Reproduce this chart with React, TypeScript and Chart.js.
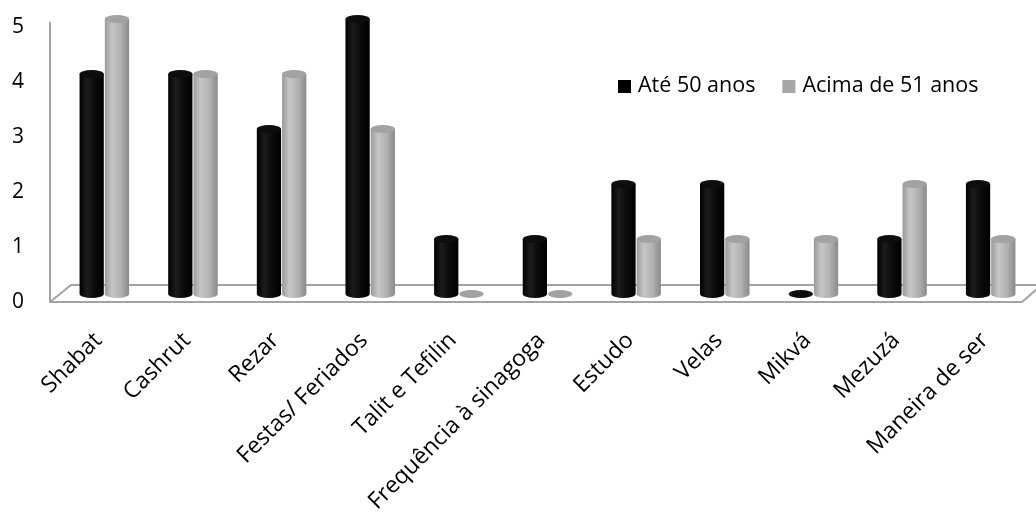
import React, { useEffect, useRef } from "react";
import { Chart, registerables } from "chart.js";

Chart.register(...registerables);

const categories = [
  "Shabat",
  "Cashrut",
  "Rezar",
  "Festas/ Feriados",
  "Talit e Tefilin",
  "Frequência à sinagoga",
  "Estudo",
  "Velas",
  "Mikvá",
  "Mezuzá",
  "Maneira de ser",
];

const seriesNames = ["Até 50 anos", "Acima de 51 anos"];
const ate50 = [4, 4, 3, 5, 1, 1, 2, 2, 0, 1, 2];
const acima51 = [5, 4, 4, 3, 0, 0, 1, 1, 1, 2, 1];
const yTicks = [0, 1, 2, 3, 4, 5];

const FONT = "'Open Sans', 'DejaVu Sans', sans-serif";

// Shading for each series: body gradient stops and cap colour
const shades = [
  {
    stops: ["#000000", "#1c1c1c", "#0a0a0a", "#000000"],
    cap: "#0d0d0d",
    legend: "#000000",
  },
  {
    stops: ["#9a9a9a", "#c6c6c6", "#b2b2b2", "#8a8a8a"],
    cap: "#a2a2a2",
    legend: "#a6a6a6",
  },
];

// Floor plane, value axis line, cylinders and legend
const cylinderPlugin = {
  id: "cylinders",
  beforeDatasetsDraw(chart: any) {
    const { ctx, chartArea, scales } = chart;
    const base = scales.y.getPixelForValue(0);
    const top = scales.y.getPixelForValue(5);
    const frontY = base + 8;
    const backY = base - 9;
    const leftX = chartArea.left - 10;
    const rightX = chartArea.right - 13;
    const depth = 21;
    ctx.save();
    ctx.strokeStyle = "#a3a3a3";
    ctx.lineWidth = 2;
    ctx.beginPath();
    ctx.moveTo(leftX, top + 3);
    ctx.lineTo(leftX, frontY);
    ctx.lineTo(rightX, frontY);
    ctx.lineTo(rightX + depth - 6, backY + 4);
    ctx.moveTo(leftX, frontY);
    ctx.lineTo(leftX + depth, backY);
    ctx.lineTo(chartArea.right + 2, backY);
    ctx.stroke();
    ctx.restore();
  },
  afterDatasetsDraw(chart: any) {
    const { ctx } = chart;
    const ry = 4;
    ctx.save();
    chart.data.datasets.forEach((_: any, di: number) => {
      const meta = chart.getDatasetMeta(di);
      const shade = shades[di];
      meta.data.forEach((bar: any) => {
        const { x, y, base, width } = bar.getProps(["x", "y", "base", "width"], true);
        const rx = width / 2 - 0.5;
        if (Math.abs(base - y) > 0.5) {
          const g = ctx.createLinearGradient(x - rx, 0, x + rx, 0);
          g.addColorStop(0, shade.stops[0]);
          g.addColorStop(0.3, shade.stops[1]);
          g.addColorStop(0.65, shade.stops[2]);
          g.addColorStop(1, shade.stops[3]);
          ctx.fillStyle = g;
          ctx.beginPath();
          ctx.moveTo(x - rx, y);
          ctx.lineTo(x - rx, base);
          ctx.ellipse(x, base, rx, ry, 0, Math.PI, 0, true);
          ctx.lineTo(x + rx, y);
          ctx.closePath();
          ctx.fill();
        }
        ctx.fillStyle = shade.cap;
        ctx.beginPath();
        ctx.ellipse(x, y, rx, ry, 0, 0, Math.PI * 2);
        ctx.fill();
      });
    });

    // legend
    ctx.font = `21.5px ${FONT}`;
    ctx.textBaseline = "middle";
    ctx.textAlign = "left";
    const ly = 86;
    let lx = 618;
    seriesNames.forEach((name, i) => {
      ctx.fillStyle = shades[i].legend;
      ctx.fillRect(lx, ly - 6, 13, 13);
      ctx.fillStyle = "#000000";
      ctx.fillText(name, lx + 20, ly);
      lx += 20 + ctx.measureText(name).width + 27;
    });
    ctx.restore();
  },
};

export default function App() {
  const canvasRef = useRef<HTMLCanvasElement | null>(null);

  useEffect(() => {
    if (!canvasRef.current) return;
    const chart = new Chart(canvasRef.current, {
      type: "bar",
      data: {
        labels: categories,
        datasets: [
          {
            label: seriesNames[0],
            data: ate50,
            backgroundColor: "rgba(0,0,0,0)",
            borderWidth: 0,
          },
          {
            label: seriesNames[1],
            data: acima51,
            backgroundColor: "rgba(0,0,0,0)",
            borderWidth: 0,
          },
        ],
      },
      options: {
        responsive: false,
        animation: false,
        maintainAspectRatio: false,
        layout: { padding: { top: 19, right: 1, left: 12, bottom: 0 } },
        datasets: {
          bar: { categoryPercentage: 0.57, barPercentage: 1.0 },
        },
        plugins: {
          legend: { display: false },
          tooltip: { enabled: false },
        },
        scales: {
          x: {
            grid: { display: false, drawTicks: false },
            border: { display: false },
            ticks: {
              minRotation: 45,
              maxRotation: 45,
              padding: 33,
              labelOffset: -6,
              color: "#000000",
              font: { family: FONT, size: 23 },
            },
            afterFit(axis: any) {
              axis.height = 219;
              axis.paddingLeft = 0;
              axis.paddingRight = 0;
            },
          },
          y: {
            min: 0,
            max: 5,
            afterBuildTicks(axis: any) {
              axis.ticks = yTicks.map((v) => ({ value: v }));
            },
            grid: { display: false, drawTicks: false },
            border: { display: false },
            ticks: {
              padding: 3,
              crossAlign: "far",
              labelOffset: 8,
              color: "#000000",
              font: { family: FONT, size: 21 },
            },
            afterFit(axis: any) {
              axis.width = 48;
            },
          },
        },
      },
      plugins: [cylinderPlugin],
    });
    return () => chart.destroy();
  }, []);

  return (
    <div style={{ position: "fixed", left: 0, top: 0, width: 1036, height: 513, background: "#ffffff" }}>
      <canvas ref={canvasRef} width={1036} height={513} />
    </div>
  );
}
